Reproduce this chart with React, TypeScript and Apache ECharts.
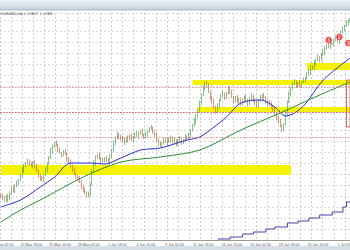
import React, { useEffect, useRef } from "react";
import * as echarts from "echarts";

const firstOpen = 1.107;
const closes = [
  1.1066, 1.1054, 1.1062, 1.1046, 1.1062, 1.1078, 1.1098, 1.1086, 1.1106, 1.1118,
  1.113, 1.1146, 1.117, 1.119, 1.1198, 1.1206, 1.1194, 1.1186, 1.1202, 1.1182,
  1.1166, 1.115, 1.1134, 1.113, 1.115, 1.117, 1.1198, 1.1218, 1.1246, 1.1266,
  1.1278, 1.127, 1.125, 1.1238, 1.123, 1.1242, 1.1234, 1.1218, 1.1202, 1.1186,
  1.117, 1.1154, 1.1142, 1.1134, 1.1122, 1.1106, 1.109, 1.1078, 1.1066, 1.1074,
  1.1114, 1.1162, 1.1198, 1.1222, 1.123, 1.1218, 1.1206, 1.121, 1.1218, 1.1206,
  1.1202, 1.1226, 1.125, 1.1278, 1.1298, 1.1314, 1.1302, 1.1294, 1.1282, 1.1294,
  1.1286, 1.1298, 1.1306, 1.129, 1.1302, 1.1314, 1.1306, 1.1318, 1.1326, 1.131,
  1.1302, 1.1314, 1.1326, 1.1334, 1.1338, 1.1326, 1.131, 1.129, 1.1274, 1.1266,
  1.1278, 1.129, 1.1282, 1.1294, 1.1286, 1.1298, 1.1278, 1.129, 1.1274, 1.1286,
  1.1294, 1.1282, 1.129, 1.1302, 1.1294, 1.131, 1.133, 1.1346, 1.1366, 1.1386,
  1.141, 1.1438, 1.147, 1.1498, 1.1518, 1.1506, 1.1482, 1.1462, 1.1446, 1.1422,
  1.1402, 1.1426, 1.145, 1.1466, 1.1474, 1.1462, 1.1478, 1.1498, 1.1482, 1.1462,
  1.1446, 1.1458, 1.1442, 1.1454, 1.1434, 1.1446, 1.1462, 1.145, 1.1434, 1.145,
  1.1466, 1.1454, 1.1438, 1.1426, 1.1446, 1.1462, 1.147, 1.1454, 1.1438, 1.1446,
  1.1434, 1.1422, 1.141, 1.1394, 1.1378, 1.1362, 1.1346, 1.1334, 1.1354, 1.1394,
  1.1442, 1.1474, 1.1498, 1.1514, 1.1522, 1.151, 1.1518, 1.1506, 1.1522, 1.153,
  1.1538, 1.1554, 1.1562, 1.1586, 1.1578, 1.1598, 1.161, 1.1622, 1.161, 1.163,
  1.1642, 1.1658, 1.167, 1.1662, 1.1682, 1.1674, 1.169, 1.1702, 1.1686, 1.1706,
  1.1722, 1.1734, 1.1746, 1.1758, 1.1766, 1.177,
];
const highs = [
  1.1076, 1.1076, 1.1066, 1.107, 1.1074, 1.1084, 1.1102, 1.1108, 1.1112, 1.1128,
  1.1134, 1.1154, 1.1182, 1.1196, 1.1202, 1.1216, 1.1212, 1.1204, 1.1206, 1.121,
  1.1194, 1.1172, 1.1154, 1.1144, 1.1156, 1.118, 1.1202, 1.1226, 1.1258, 1.1272,
  1.1282, 1.1288, 1.1276, 1.126, 1.1242, 1.125, 1.1254, 1.124, 1.1222, 1.1212,
  1.1192, 1.118, 1.1158, 1.115, 1.1146, 1.1128, 1.111, 1.11, 1.1084, 1.1084,
  1.1118, 1.117, 1.121, 1.1228, 1.1234, 1.124, 1.1224, 1.122, 1.1222, 1.1226,
  1.1218, 1.1232, 1.1254, 1.1288, 1.1304, 1.1324, 1.1318, 1.131, 1.1306, 1.13,
  1.1298, 1.1308, 1.1312, 1.1316, 1.1306, 1.1322, 1.1326, 1.1324, 1.133, 1.1336,
  1.1316, 1.1324, 1.133, 1.1342, 1.135, 1.1344, 1.133, 1.132, 1.1296, 1.1284,
  1.1282, 1.1298, 1.1302, 1.13, 1.1298, 1.1308, 1.1304, 1.13, 1.1294, 1.1294,
  1.1306, 1.13, 1.1294, 1.1312, 1.1308, 1.132, 1.1334, 1.1354, 1.1378, 1.1392,
  1.1414, 1.1448, 1.1476, 1.1508, 1.1522, 1.1526, 1.1518, 1.1488, 1.1466, 1.1456,
  1.1428, 1.1436, 1.1454, 1.1474, 1.1486, 1.148, 1.1482, 1.1508, 1.1504, 1.1492,
  1.1466, 1.1466, 1.147, 1.146, 1.1458, 1.1456, 1.1468, 1.1472, 1.1454, 1.1458,
  1.1478, 1.1472, 1.1458, 1.1448, 1.1452, 1.1472, 1.1474, 1.1478, 1.1466, 1.1452,
  1.145, 1.1444, 1.1428, 1.142, 1.1398, 1.1386, 1.1374, 1.1352, 1.1358, 1.1404,
  1.1448, 1.1484, 1.1502, 1.1522, 1.1534, 1.1528, 1.1522, 1.1528, 1.1528, 1.154,
  1.1542, 1.1562, 1.1574, 1.1592, 1.159, 1.1608, 1.1616, 1.1632, 1.1626, 1.1638,
  1.1654, 1.1664, 1.1674, 1.168, 1.1688, 1.1692, 1.1694, 1.171, 1.1714, 1.1712,
  1.1726, 1.1744, 1.1752, 1.1768, 1.177, 1.1778,
];
const lows = [
  1.1058, 1.105, 1.1044, 1.104, 1.1042, 1.105, 1.107, 1.108, 1.1078, 1.1102,
  1.1108, 1.1124, 1.1142, 1.1158, 1.1182, 1.1192, 1.1186, 1.1182, 1.1176, 1.1176,
  1.1162, 1.1138, 1.1126, 1.1124, 1.1122, 1.1146, 1.116, 1.1192, 1.1214, 1.1234,
  1.1258, 1.1264, 1.1242, 1.1234, 1.122, 1.1224, 1.123, 1.1206, 1.1194, 1.118,
  1.1162, 1.115, 1.1132, 1.1128, 1.1118, 1.1094, 1.1082, 1.1072, 1.1058, 1.1062,
  1.1064, 1.1108, 1.1158, 1.1186, 1.1214, 1.1212, 1.1198, 1.1202, 1.12, 1.12,
  1.1198, 1.119, 1.1218, 1.1244, 1.127, 1.1294, 1.1292, 1.1288, 1.1278, 1.127,
  1.1278, 1.128, 1.129, 1.1286, 1.128, 1.1296, 1.1302, 1.1294, 1.131, 1.1304,
  1.1294, 1.1298, 1.1304, 1.132, 1.133, 1.1314, 1.1302, 1.1284, 1.1266, 1.1262,
  1.1256, 1.1272, 1.1278, 1.127, 1.1278, 1.128, 1.127, 1.1274, 1.1264, 1.1268,
  1.1282, 1.127, 1.1274, 1.1284, 1.1286, 1.129, 1.13, 1.1324, 1.1342, 1.1354,
  1.1378, 1.1404, 1.143, 1.1466, 1.1488, 1.15, 1.1478, 1.145, 1.1438, 1.1416,
  1.1394, 1.1398, 1.1416, 1.1444, 1.1462, 1.145, 1.1454, 1.1472, 1.1474, 1.1458,
  1.1436, 1.144, 1.1438, 1.143, 1.1426, 1.1428, 1.1438, 1.1446, 1.1424, 1.1428,
  1.1446, 1.1442, 1.143, 1.142, 1.1418, 1.1442, 1.1452, 1.1448, 1.1434, 1.1426,
  1.1426, 1.1416, 1.1402, 1.139, 1.1368, 1.1356, 1.1342, 1.1322, 1.1326, 1.1348,
  1.1386, 1.1438, 1.1464, 1.1492, 1.151, 1.1498, 1.1502, 1.15, 1.1498, 1.1518,
  1.152, 1.1532, 1.155, 1.155, 1.157, 1.1572, 1.159, 1.1606, 1.16, 1.1604,
  1.1626, 1.163, 1.165, 1.1656, 1.1654, 1.167, 1.1664, 1.1684, 1.1682, 1.1674,
  1.1698, 1.1716, 1.1726, 1.1742, 1.1748, 1.176,
];

const tickBars = [1, 17, 33, 49, 65, 81, 97, 113, 129, 145, 161, 177, 193];
const tickLabels = [
  "18 May 02:00", "20 May 18:00", "25 May 10:00", "28 May 02:00", "1 Jun 18:00",
  "4 Jun 10:00", "9 Jun 02:00", "11 Jun 18:00", "16 Jun 10:00", "19 Jun 02:00",
  "23 Jun 18:00", "26 Jun 10:00", "1 Jul 02:00",
];

// [bar, value]
const blueMA = [
  [0, 1.1022], [11, 1.105], [22, 1.1102], [30, 1.1142], [39, 1.1198], [50, 1.1198],
  [58, 1.1194], [67, 1.1218], [78, 1.125], [89, 1.1258], [104, 1.129], [111, 1.1302],
  [119, 1.1342], [126, 1.1382], [134, 1.1438], [145, 1.145], [153, 1.1422], [159, 1.1386],
  [164, 1.1398], [170, 1.1434], [180, 1.153], [195, 1.1618],
];
const greenMA = [
  [0, 1.0962], [11, 1.101], [22, 1.105], [46, 1.1142], [67, 1.1202], [89, 1.1222],
  [111, 1.125], [134, 1.133], [156, 1.1398], [167, 1.1434], [178, 1.147], [195, 1.1522],
];
const stepLine = [
  [121, 1.0894], [128, 1.0902], [135, 1.0914], [141, 1.0922], [148, 1.0934], [153, 1.0942],
  [160, 1.0958], [166, 1.0966], [172, 1.0978], [178, 1.099], [185, 1.1002], [191, 1.1022],
  [193, 1.1042], [195, 1.1042],
];
// [top, bottom, fromBar, toBar]
const zones = [
  [1.153, 1.151, 107, 195],
  [1.1422, 1.1402, 110, 195],
  [1.1598, 1.157, 171, 195],
  [1.119, 1.115, 0, 162],
];
const redLevels = [1.1478, 1.143, 1.1382, 1.1358, 1.1318];
const markers = [
  [183, 1.169, "1"],
  [189, 1.1702, "2"],
  [194, 1.1678, "3"],
];
const boxTop = 1.153;
const boxBottom = 1.1342;
const titleText = "EURUSD,H4 1.17657 1.1768";

export default function App() {
  const ref = useRef<HTMLDivElement>(null);
  useEffect(() => {
    if (!ref.current) return;
    const chart = echarts.init(ref.current, undefined, { renderer: "svg" });
    const categories = closes.map((_, i) => String(i));
    const candles = closes.map((c, i) => [
      i === 0 ? firstOpen : closes[i - 1],
      c,
      lows[i],
      highs[i],
    ]);
    const tickMap: Record<number, string> = {};
    tickBars.forEach((b, k) => (tickMap[b] = tickLabels[k]));

    chart.setOption({
      animation: false,
      backgroundColor: "#ffffff",
      grid: { left: 0, right: -1, top: 13, bottom: 10, containLabel: false, outerBoundsMode: "none" },
      xAxis: [
        {
          type: "category",
          data: categories,
          boundaryGap: true,
          axisLine: { show: true, lineStyle: { color: "#9a9a9a", width: 1 } },
          axisTick: { show: false },
          splitLine: { show: false },
          axisLabel: {
            interval: (index: number) => tickMap[index] !== undefined,
            formatter: (_v: string, index: number) => tickMap[index] ?? "",
            fontSize: 3.6,
            color: "#555",
            margin: 3,
            hideOverlap: false,
            fontFamily: "Liberation Sans",
          },
        },
        {
          type: "value",
          min: -0.75,
          max: 30.8,
          interval: 1,
          show: true,
          position: "top",
          axisLine: { show: false },
          axisTick: { show: false },
          axisLabel: { show: false },
          splitLine: { show: true, lineStyle: { color: "#b4b4b4", type: [2, 2], width: 0.7 } },
        },
      ],
      yAxis: [
        {
          type: "value",
          min: 1.089,
          max: 1.1798,
          interval: 0.0044,
          axisLine: { show: false },
          axisTick: { show: false },
          axisLabel: { show: false },
          splitLine: { show: true, lineStyle: { color: "#c4c4c4", type: [2, 2], width: 0.6 } },
        },
      ],
      series: [
        {
          type: "candlestick",
          data: candles,
          barMaxWidth: 1.2,
          itemStyle: {
            color: "#2e9e3a",
            color0: "#c8502a",
            borderColor: "#2e9e3a",
            borderColor0: "#c8502a",
            borderWidth: 0.6,
          },
          markArea: {
            silent: true,
            itemStyle: { color: "#f4f200" },
            data: zones.map((z) => [
              { xAxis: String(z[2]), yAxis: z[0] },
              { xAxis: String(z[3]), yAxis: z[1] },
            ]).concat([
              [
                { xAxis: "193", yAxis: boxTop, itemStyle: { color: "rgba(0,0,0,0)", borderColor: "#d23c3c", borderWidth: 0.8 } } as any,
                { xAxis: "195", yAxis: boxBottom } as any,
              ],
            ]),
          },
          markLine: {
            silent: true,
            symbol: "none",
            label: { show: false },
            lineStyle: { color: "#dd6666", type: [1.5, 1.5], width: 0.7 },
            data: redLevels.map((v) => ({ yAxis: v })),
          },
          z: 3,
        },
        {
          type: "line",
          data: blueMA,
          smooth: 0.3,
          showSymbol: false,
          lineStyle: { color: "#2b2bd0", width: 1 },
          z: 4,
        },
        {
          type: "line",
          data: greenMA,
          smooth: 0.3,
          showSymbol: false,
          lineStyle: { color: "#2f8a2f", width: 1 },
          z: 4,
        },
        {
          type: "line",
          data: stepLine,
          step: "end",
          showSymbol: false,
          lineStyle: { color: "#4a3fa8", width: 1 },
          z: 4,
        },
        {
          type: "scatter",
          data: markers,
          symbolSize: 7,
          itemStyle: { color: "#e02020", borderColor: "#ffffff", borderWidth: 0.6 },
          label: {
            show: true,
            position: "inside",
            formatter: (p: any) => p.value[2],
            color: "#ffffff",
            fontSize: 5,
            fontWeight: "bold",
          },
          z: 6,
        },
      ],
      graphic: [
        {
          type: "rect",
          shape: { x: 0, y: 0, width: 350, height: 10 },
          style: {
            fill: new echarts.graphic.LinearGradient(0, 0, 0, 1, [
              { offset: 0, color: "#eef2f6" },
              { offset: 1, color: "#c6d2de" },
            ]),
          },
          z: 10,
        },
        { type: "line", shape: { x1: 0, y1: 10, x2: 350, y2: 10 }, style: { stroke: "#9aaabb", lineWidth: 0.8 }, z: 10 },
        {
          type: "text",
          x: 1,
          y: 11.5,
          style: { text: titleText, fontSize: 3.6, fill: "#333", fontFamily: "DejaVu Sans" },
          z: 10,
        },
        {
          type: "rect",
          shape: { x: 0, y: 246, width: 350, height: 4 },
          style: { fill: "#d6dee8" },
          z: 10,
        },
      ],
    });
    return () => chart.dispose();
  }, []);
  return <div ref={ref} style={{ width: 350, height: 250, position: "absolute", left: 0, top: 0 }} />;
}
